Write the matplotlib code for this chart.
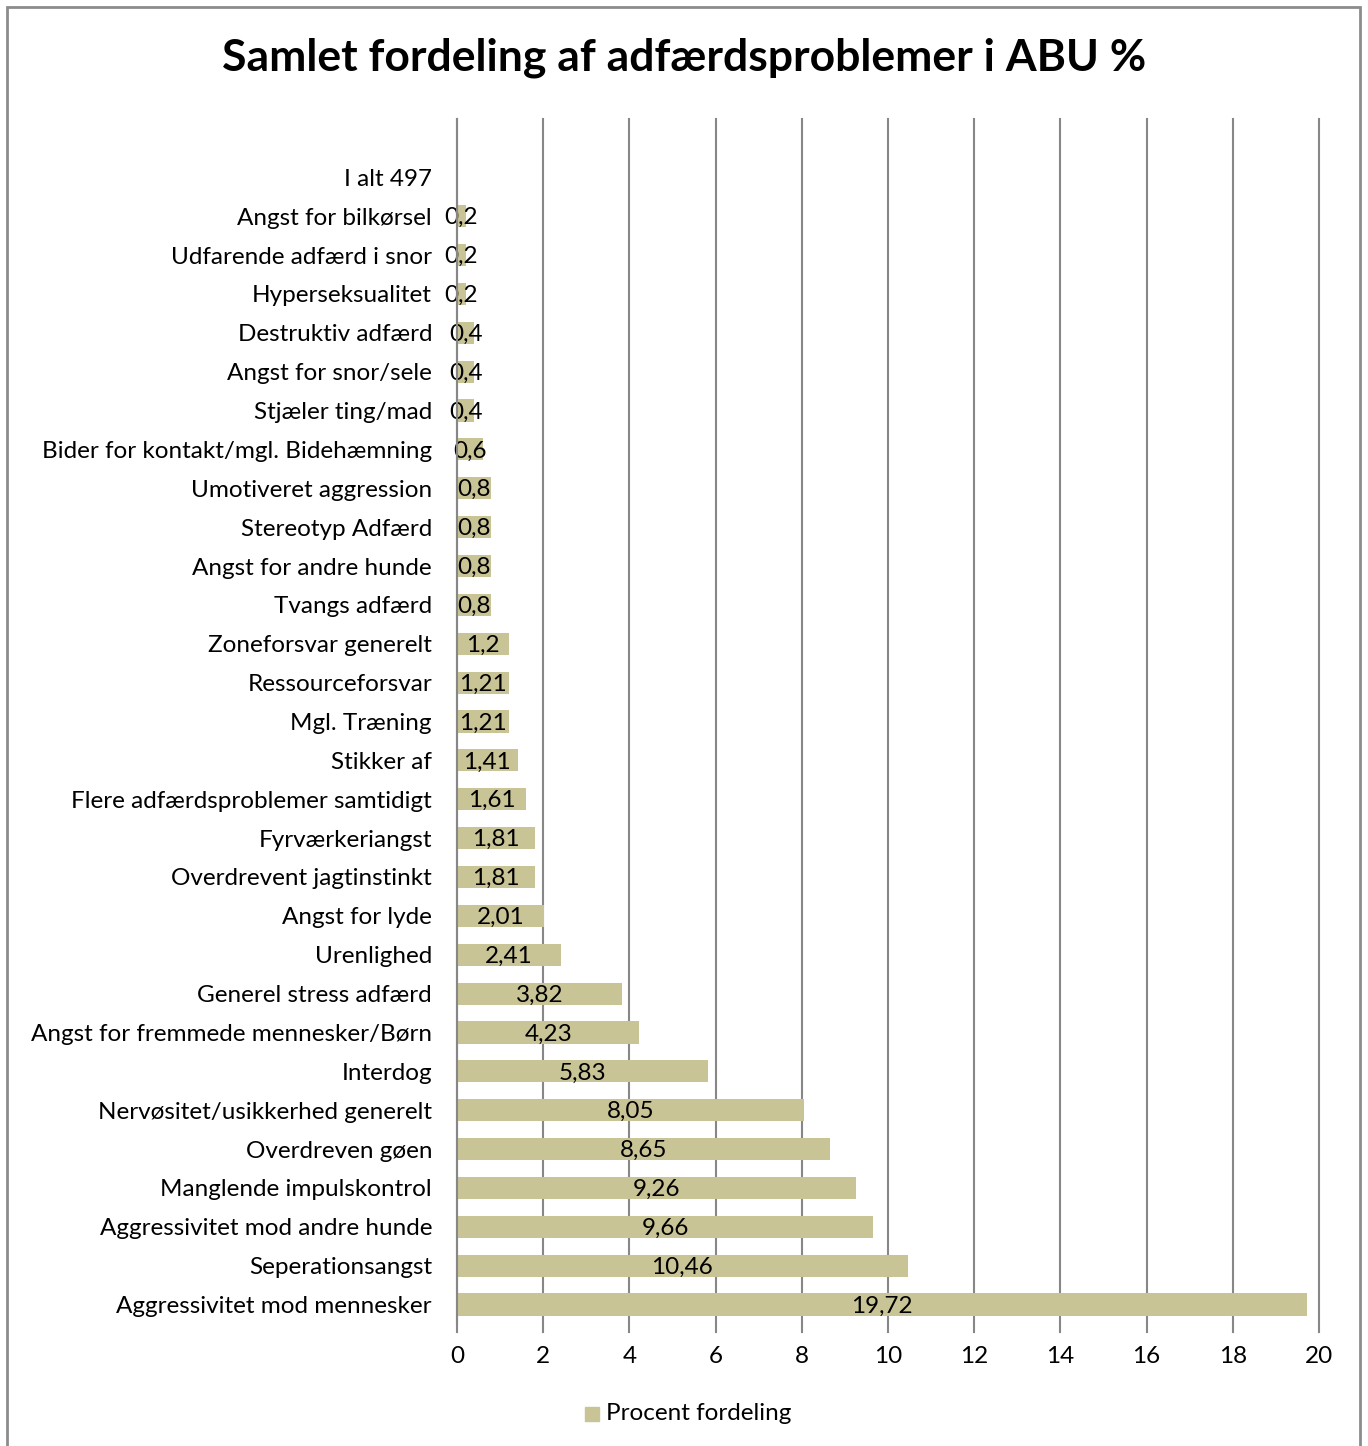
import matplotlib.pyplot as plt
from matplotlib.patches import Rectangle

plt.rcParams['font.family'] = ['Lato', 'DejaVu Sans']

# categories listed bottom to top, as drawn
categories = [
    "Aggressivitet mod mennesker", "Seperationsangst", "Aggressivitet mod andre hunde",
    "Manglende impulskontrol", "Overdreven gøen", "Nervøsitet/usikkerhed generelt",
    "Interdog", "Angst for fremmede mennesker/Børn", "Generel stress adfærd",
    "Urenlighed", "Angst for lyde", "Overdrevent jagtinstinkt", "Fyrværkeriangst",
    "Flere adfærdsproblemer samtidigt", "Stikker af", "Mgl. Træning", "Ressourceforsvar",
    "Zoneforsvar generelt", "Tvangs adfærd", "Angst for andre hunde", "Stereotyp Adfærd",
    "Umotiveret aggression", "Bider for kontakt/mgl. Bidehæmning", "Stjæler ting/mad",
    "Angst for snor/sele", "Destruktiv adfærd", "Hyperseksualitet",
    "Udfarende adfærd i snor", "Angst for bilkørsel", "I alt 497", "",
]
values = [
    19.72, 10.46, 9.66, 9.26, 8.65, 8.05, 5.83, 4.23, 3.82, 2.41, 2.01, 1.81, 1.81,
    1.61, 1.41, 1.21, 1.21, 1.2, 0.8, 0.8, 0.8, 0.8, 0.6, 0.4, 0.4, 0.4, 0.2, 0.2,
    0.2, None, None,
]
xticks = [0, 2, 4, 6, 8, 10, 12, 14, 16, 18, 20]

bar_color = "#C9C496"
grid_color = "#878787"
fs = 17.5

fig = plt.figure(figsize=(13.68, 14.46), dpi=100)
W, H = 1368, 1446
ax = fig.add_axes([457 / W, 1 - 1324 / H, (1319 - 457) / W, (1324 - 119) / H])

pos = list(range(len(categories)))
bar_vals = [v if v is not None else 0 for v in values]
ax.barh(pos, bar_vals, height=0.57, color=bar_color, zorder=3)

for p, v in zip(pos, values):
    if v is None:
        continue
    txt = f"{v:g}".replace(".", ",")
    ax.text(v / 2, p - 0.04, txt, ha="center", va="center", fontsize=fs, zorder=4)

ax.set_xlim(0, 20)
ax.set_ylim(-0.5, len(categories) - 0.5)
ax.set_xticks(xticks)
ax.set_xticklabels([str(t) for t in xticks], fontsize=fs)
ax.set_yticks(pos)
ax.set_yticklabels(categories, fontsize=fs)
ax.tick_params(axis="y", length=0, pad=18)
ax.tick_params(axis="x", length=0, pad=16)

for t in xticks:
    ax.plot([t, t], [-0.5 - 0.2, len(categories) - 0.5], color=grid_color, lw=1.5,
            zorder=1, clip_on=False)

for s in ["top", "right", "bottom"]:
    ax.spines[s].set_visible(False)
ax.spines["left"].set_color(grid_color)
ax.spines["left"].set_linewidth(1.5)
ax.spines["left"].set_zorder(5)

fig.text(684 / W, 1 - 58 / H, "Samlet fordeling af adfærdsproblemer i ABU %",
         ha="center", va="center", fontsize=32, fontweight="bold")

# legend
fig.patches.append(Rectangle((585 / W, 1 - 1421 / H), 14 / W, 14 / H,
                             transform=fig.transFigure, color=bar_color))
fig.text(606 / W, 1 - 1414 / H, "Procent fordeling", ha="left", va="center", fontsize=fs)

# chart border
fig.patches.append(Rectangle((7 / W, -0.01), (1360 - 7) / W, 1 - 7 / H + 0.01,
                             transform=fig.transFigure, fill=False,
                             edgecolor="#8c8c8c", lw=2))

fig.savefig("out.png", dpi=100)
